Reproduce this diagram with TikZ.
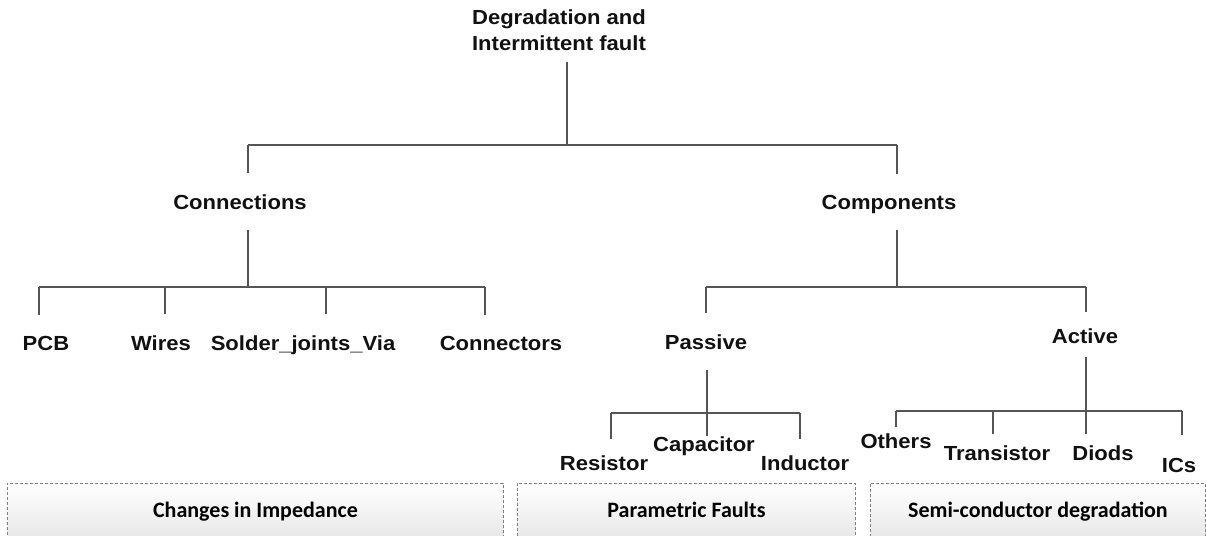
\documentclass[tikz,border=0pt]{standalone}
\usepackage{fontspec}
\newfontfamily\arialfont{Liberation Sans}[FakeStretch=1.08]
\newfontfamily\calfont{Carlito}
\definecolor{linegray}{HTML}{555555}
\definecolor{labeldark}{HTML}{111111}
\definecolor{boxedge}{HTML}{7F7F7F}
\definecolor{boxfill}{HTML}{E8E8E8}

\begin{document}
\begin{tikzpicture}[x=1pt, y=-1pt,
    lbl/.style={font=\fontsize{20.4}{26}\selectfont\arialfont\bfseries, text=labeldark, inner sep=0pt, anchor=base},
    rootline/.style={draw=linegray, line width=1.1pt},
    treeline/.style={draw=linegray, line width=1.8pt},
    stemline/.style={draw=linegray, line width=2.8pt},
    groupbox/.style={draw=boxedge, dash pattern=on 3pt off 2pt, line width=0.9pt,
        top color=white, bottom color=boxfill, anchor=north west, inner sep=0pt,
        font=\fontsize{22}{26}\selectfont\calfont\bfseries, text=black,
        text height=14pt, text depth=0pt}]
    \useasboundingbox (0,0) rectangle (1206,535);

    % Root
    \node[lbl, align=center, anchor=north] (root) at (559,10) {Degradation and\\Intermittent fault};
    \coordinate (j0) at (567,145);
    \coordinate (b1l) at (248,145);
    \coordinate (b1r) at (897,145);

    % First level
    \node[lbl] (conn) at (240,209) {Connections};
    \node[lbl] (comp) at (889,209) {Components};
    \draw[rootline, shorten <=11pt] (root.south -| j0) -- (j0);
    \draw[rootline] (b1l) -- (b1r);
    \draw[rootline, shorten >=21pt] (b1l) -- (b1l |- conn.north);
    \draw[rootline, shorten >=21pt] (b1r) -- (b1r |- comp.north);

    % Connections branch
    \node[lbl] (pcb) at (46,350) {PCB};
    \node[lbl] (wir) at (161,350) {Wires};
    \node[lbl] (sol) at (303,350) {Solder\_joints\_Via};
    \node[lbl] (cnr) at (501,350) {Connectors};
    \coordinate (c0) at (248,287);
    \coordinate (c1) at (39,287);
    \coordinate (c2) at (165,287);
    \coordinate (c3) at (326,287);
    \coordinate (c4) at (485,287);
    \draw[stemline, shorten <=21pt] (conn.base -| c0) -- (c0);
    \draw[treeline] (c1) -- (c4);
    \foreach \j/\n in {c1/pcb, c2/wir, c3/sol, c4/cnr}
        \draw[treeline, shorten >=21pt] (\j) -- (\j |- \n.north);

    % Components branch
    \node[lbl] (pas) at (706,349) {Passive};
    \node[lbl] (act) at (1085,343) {Active};
    \coordinate (k0) at (897,287);
    \coordinate (k1) at (706,287);
    \coordinate (k2) at (1086,287);
    \draw[stemline, shorten <=21pt] (comp.base -| k0) -- (k0);
    \draw[treeline] (k1) -- (k2);
    \draw[treeline, shorten >=21pt] (k1) -- (k1 |- pas.north);
    \draw[treeline, shorten >=16pt] (k2) -- (k2 |- act.north);

    % Passive parts
    \node[lbl] (res) at (604,470) {Resistor};
    \node[lbl] (cap) at (704,451) {Capacitor};
    \node[lbl] (ind) at (805,470) {Inductor};
    \coordinate (p0) at (707,413);
    \coordinate (p1) at (611,413);
    \coordinate (p3) at (800,413);
    \draw[stemline, shorten <=21pt] (pas.base -| p0) -- (p0);
    \draw[treeline] (p1) -- (p3);
    \foreach \j/\n/\g in {p1/res/16, p0/cap/0, p3/ind/16}
        \draw[treeline, shorten >=\g pt] (\j) -- (\j |- \n.north);

    % Active parts
    \node[lbl] (oth) at (896,448) {Others};
    \node[lbl] (tra) at (997,460) {Transistor};
    \node[lbl] (dio) at (1103,460) {Diods};
    \node[lbl] (ics) at (1179,472) {ICs};
    \coordinate (a0) at (1086,411);
    \coordinate (a1) at (896,411);
    \coordinate (a2) at (993,411);
    \coordinate (a4) at (1182,411);
    \draw[stemline, shorten <=14pt] (act.base -| a0) -- (a0);
    \draw[treeline] (a1) -- (a4);
    \foreach \j/\n/\g in {a1/oth/6, a2/tra/11, a0/dio/11, a4/ics/23}
        \draw[treeline, shorten >=\g pt] (\j) -- (\j |- \n.north);

    % Fault groups
    \node[groupbox, minimum width=496pt, minimum height=54pt] (gimp) at (7,483) {Changes in Impedance};
    \node[groupbox, minimum width=338pt, minimum height=54pt] (gpar) at (517,483) {Parametric Faults};
    \node[groupbox, minimum width=335pt, minimum height=54pt] (gsem) at (870,483) {Semi-conductor degradation};
\end{tikzpicture}
\end{document}
